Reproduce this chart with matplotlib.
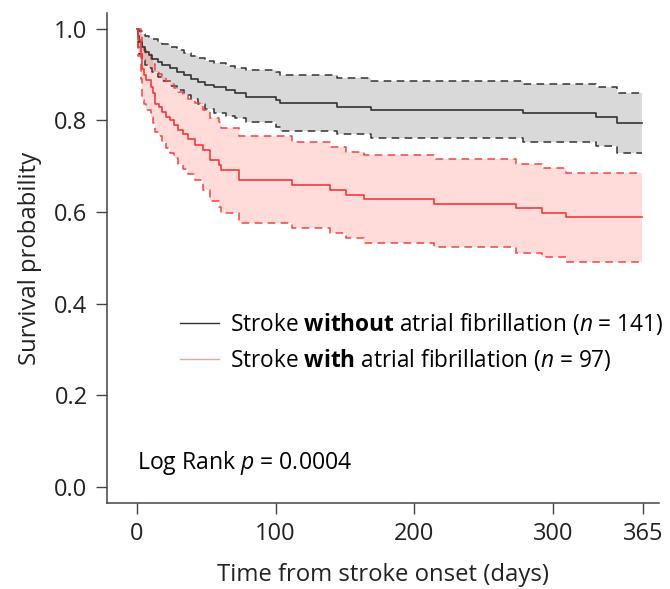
import numpy as np
from matplotlib import pyplot as plt

plt.rcParams['font.family'] = ['Open Sans', 'DejaVu Sans']
plt.rcParams['mathtext.fontset'] = 'custom'
plt.rcParams['mathtext.rm'] = 'Open Sans'
plt.rcParams['mathtext.it'] = 'Open Sans:italic'
plt.rcParams['mathtext.bf'] = 'Open Sans:bold'

# stroke without atrial fibrillation (n = 141)
t_noaf = [0, 1, 2, 4, 6, 9, 11, 15, 18, 24, 29, 34, 39, 44, 49, 56, 64, 71, 79,
          100, 103, 144, 169, 278, 331, 346, 364]
s_noaf = [1.0, 0.985, 0.972, 0.961, 0.950, 0.943, 0.935, 0.928, 0.921, 0.914,
          0.907, 0.899, 0.891, 0.885, 0.878, 0.874, 0.867, 0.860, 0.852, 0.845,
          0.838, 0.829, 0.823, 0.816, 0.808, 0.795, 0.795]
hi_noaf = [1.0, 1.0, 0.995, 0.990, 0.985, 0.981, 0.978, 0.972, 0.967, 0.960,
           0.954, 0.947, 0.941, 0.936, 0.929, 0.925, 0.918, 0.914, 0.910, 0.905,
           0.899, 0.892, 0.887, 0.880, 0.874, 0.861, 0.861]
lo_noaf = [1.0, 0.960, 0.945, 0.932, 0.922, 0.914, 0.905, 0.895, 0.886, 0.876,
           0.866, 0.856, 0.846, 0.835, 0.825, 0.816, 0.810, 0.805, 0.797, 0.785,
           0.777, 0.770, 0.762, 0.752, 0.744, 0.728, 0.728]

# stroke with atrial fibrillation (n = 97)
t_af = [0, 1, 3, 4, 5, 7, 10, 12, 13, 16, 18, 21, 24, 27, 30, 33, 37, 42, 48,
        53, 59, 61, 74, 112, 139, 151, 164, 214, 273, 292, 309, 364]
s_af = [1.0, 0.975, 0.946, 0.913, 0.899, 0.888, 0.873, 0.859, 0.837, 0.830,
        0.819, 0.808, 0.801, 0.790, 0.779, 0.771, 0.760, 0.747, 0.736, 0.714,
        0.703, 0.692, 0.670, 0.659, 0.648, 0.637, 0.629, 0.618, 0.608, 0.597,
        0.588, 0.588]
hi_af = [1.0, 1.0, 0.990, 0.965, 0.955, 0.945, 0.935, 0.924, 0.908, 0.902,
         0.895, 0.886, 0.880, 0.870, 0.862, 0.856, 0.848, 0.838, 0.823, 0.805,
         0.797, 0.783, 0.765, 0.754, 0.743, 0.732, 0.725, 0.715, 0.705, 0.696,
         0.686, 0.686]
lo_af = [1.0, 0.940, 0.890, 0.845, 0.835, 0.822, 0.808, 0.795, 0.775, 0.765,
         0.752, 0.740, 0.730, 0.718, 0.705, 0.695, 0.684, 0.670, 0.648, 0.625,
         0.612, 0.597, 0.577, 0.565, 0.554, 0.543, 0.533, 0.523, 0.511, 0.501,
         0.491, 0.491]

xticks = [0, 100, 200, 300, 365]
yticks = [0.0, 0.2, 0.4, 0.6, 0.8, 1.0]

fig = plt.figure(figsize=(6.7, 5.89), dpi=100)
ax = fig.add_axes([0.1597, 0.146, 0.824, 0.832])

# confidence bands
ax.fill_between(t_noaf, lo_noaf, hi_noaf, step='post', color='black',
                alpha=0.15, linewidth=0)
ax.fill_between(t_af, lo_af, hi_af, step='post', color='#ff2a1a',
                alpha=0.16, linewidth=0)

dash = (0, (5, 3.5))
ax.step(t_noaf, hi_noaf, where='post', color='#333333', lw=1.1, ls=dash)
ax.step(t_noaf, lo_noaf, where='post', color='#333333', lw=1.1, ls=dash)
ax.step(t_af, hi_af, where='post', color='#f24444', lw=1.1, ls=dash)
ax.step(t_af, lo_af, where='post', color='#f24444', lw=1.1, ls=dash)

ax.step(t_noaf, s_noaf, where='post', color='#333333', lw=1.2)
ax.step(t_af, s_af, where='post', color='#f23a3a', lw=1.2)

h1, = ax.plot([], [], color='#333333', lw=1.0)
h2, = ax.plot([], [], color='#f5a0a0', lw=1.0)
ax.legend([h1, h2],
          [r'Stroke $\mathbf{without}$ atrial fibrillation ($n$ = 141)',
           r'Stroke $\mathbf{with}$ atrial fibrillation ($n$ = 97)'],
          loc='upper left', bbox_to_anchor=(0.116, 0.41), frameon=False,
          fontsize=16.3, handlelength=1.7, handletextpad=0.5,
          labelspacing=0.42, borderaxespad=0)

ax.text(0, 0.052, r'Log Rank $p$ = 0.0004', fontsize=16.6, va='center')

ax.set_xlim(-21.4, 376.3)
ax.set_ylim(-0.036, 1.035)
ax.set_xticks(xticks)
ax.set_xticklabels([str(x) for x in xticks])
ax.set_yticks(yticks)
ax.set_yticklabels(['%.1f' % y for y in yticks])

for side in ['top', 'right']:
    ax.spines[side].set_visible(False)
for side in ['left', 'bottom']:
    ax.spines[side].set_color('#444444')
    ax.spines[side].set_linewidth(1.1)
ax.tick_params(direction='out', length=8, width=1.0, color='#444444',
               labelsize=17, labelcolor='#222222', pad=6)

ax.set_xlabel('Time from stroke onset (days)', fontsize=17.2, color='#222222',
              labelpad=12)
ax.set_ylabel('Survival probability', fontsize=17.2, color='#222222',
              labelpad=9)

fig.savefig('out.png', dpi=100)
